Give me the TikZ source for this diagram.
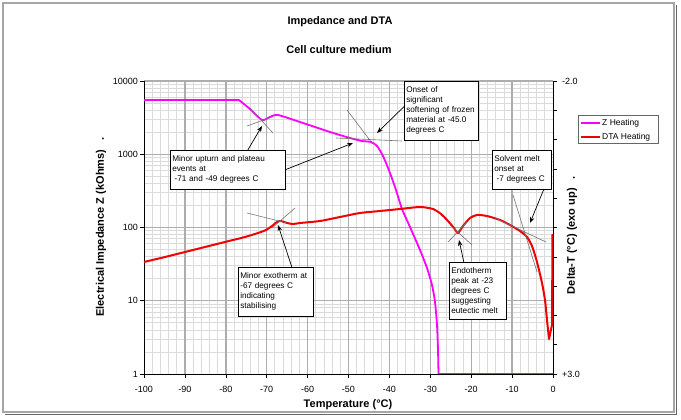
\documentclass[tikz,border=0pt]{standalone}
\usepackage{fontspec}
\setmainfont{Liberation Sans}
\usetikzlibrary{arrows.meta}
\definecolor{zmag}{RGB}{255,0,255}
\definecolor{dtared}{RGB}{240,0,0}
\begin{document}
\begin{tikzpicture}[x=1pt,y=-1pt,
  minorgrid/.style={draw=black!14, line width=0.8pt},
  majorgrid/.style={draw=black!32, line width=1.4pt},
  axisline/.style={draw=black, line width=0.7pt},
  tickline/.style={draw=black, line width=0.6pt},
  zcurve/.style={draw=zmag, line width=1.8pt, line join=round},
  dtacurve/.style={draw=dtared, line width=2pt, line join=round},
  tangent/.style={draw=black!55, line width=0.6pt},
  notebox/.style={draw=black, line width=0.6pt, fill=white, anchor=north west, align=left, inner xsep=2pt, inner ysep=5.5pt, font=\fontsize{8.2}{10}\selectfont},
  arr/.style={draw=black, line width=0.7pt, -{Stealth[length=6pt,width=4.5pt]}},
  axtitle/.style={font=\bfseries\fontsize{11}{13}\selectfont},
  ticklab/.style={font=\fontsize{9}{11}\selectfont, inner sep=1pt},
  legtext/.style={font=\fontsize{8.5}{10}\selectfont, inner sep=0pt, anchor=west}
]
\useasboundingbox (0,0) rectangle (681,420);
\fill[white] (0,0) rectangle (681,420);
% frame
\draw[black!60, line width=1pt] (5,414) -- (676,414) -- (676,5);
\draw[black!35, line width=1.2pt] (3,3) rectangle (674,412);
% grid
\foreach \k in {1,...,49}{
  \pgfmathsetmacro\gx{144+8.18*\k}
  \draw[minorgrid] (\gx,81) -- (\gx,374);
}
\foreach \d in {0,...,3}{
  \foreach \m in {2,...,9}{
    \pgfmathsetmacro\gy{374-73.25*(\d+log10(\m))}
    \draw[minorgrid] (144,\gy) -- (553,\gy);
  }
}
\foreach \k in {1,...,9}{
  \pgfmathsetmacro\gx{144+40.9*\k}
  \draw[majorgrid] (\gx,81) -- (\gx,374);
}
\foreach \d in {1,...,4}{
  \pgfmathsetmacro\gy{374-73.25*\d}
  \draw[majorgrid] (144,\gy) -- (553,\gy);
}
% axes
\draw[axisline] (144,81) -- (144,374) -- (553,374) -- (553,81);
\foreach \d/\lab in {0/1,1/10,2/100,3/1000,4/10000}{
  \pgfmathsetmacro\gy{374-73.25*\d}
  \draw[tickline] (140,\gy) -- (144,\gy);
  \node[ticklab, anchor=east] (yl\d) at (139,\gy) {\lab};
}
\foreach \k in {0,...,10}{
  \pgfmathsetmacro\tx{144+40.9*\k}
  \pgfmathtruncatemacro\tv{-100+10*\k}
  \draw[tickline] (\tx,374) -- (\tx,378);
  \node[ticklab] (xl\k) at (\tx,389) {\tv};
}
\foreach \k in {0,...,10}{
  \pgfmathsetmacro\gy{81+29.3*\k}
  \draw[tickline] (553,\gy) -- (557,\gy);
}
\node[ticklab, anchor=west] (rl0) at (561,81) {-2.0};
\node[ticklab, anchor=west] (rl1) at (561,374) {+3.0};
% curves
\draw[zcurve] (144,100) -- (239,100) plot[smooth, tension=0.4] coordinates {(239,100) (250,109) (262,120) (270,117) (278,115) (303,123) (330,132) (350,138) (362,141) (371,142) (377,146) (383,156) (390,173) (396,190) (402,209) (410,227) (420,250) (427,268) (432,285) (435,302) (437,325) (438,350) (438.5,374)} -- (553,374);
\draw[black, line width=0.6pt] (438,374) -- (553,374);
\draw[dtacurve] plot[smooth, tension=0.4] coordinates {(144,262) (165,257) (185,252) (205,247) (225,242) (245,237) (258,233) (266,230) (272,226) (277,222) (281,221) (287,223) (293,224) (300,223) (320,221) (340,217) (360,213) (380,211) (400,209) (420,207) (433,209) (441,214) (448,221) (454,228) (458,233) (463,226) (470,218) (477,215) (487,216) (500,220) (510,225) (520,231) (527,237) (532,246) (537,262) (542,283) (545,300) (547,320) (549,339)} -- (552,325) -- (552.5,234);
% tangents
\draw[tangent] (250,108) -- (273,133);
\draw[tangent] (247,126) -- (272,117);
\draw[tangent] (336,138) -- (402,141);
\draw[tangent] (347,110) -- (372,143);
\draw[tangent] (450,225) -- (472,245);
\draw[tangent] (448,242) -- (467,222);
\draw[tangent] (247,213) -- (287,223);
\draw[tangent] (272,228) -- (295,208);
\draw[tangent] (495,218) -- (546,242);
\draw[tangent] (513,195) -- (537,272);
% notes
\node[notebox, text width=111pt] (n1) at (170,150) {Minor upturn and plateau\\events at\\\hspace*{2.3pt}-71 and -49 degrees C};
\node[notebox, text width=70pt] (n2) at (404,81) {Onset of\\significant\\softening of frozen\\material at -45.0\\degrees C};
\node[notebox, text width=55pt] (n3) at (492,150) {Solvent melt\\onset at\\\hspace*{2.3pt}-7 degrees C};
\node[notebox, text width=53pt] (n4) at (449,262) {Endotherm\\peak at -23\\degrees C\\suggesting\\eutectic melt};
\node[notebox, text width=71pt] (n5) at (238,267) {Minor exotherm at\\-67 degrees C\\indicating\\stabilising};
\coordinate (a1) at (262,126);
\coordinate (a2) at (353,143);
\coordinate (a3) at (377,133);
\coordinate (a4) at (530,223);
\coordinate (a5) at (459,240);
\coordinate (a6) at (278,225);
\draw[arr] ([xshift=20pt]n1.north) -- (a1);
\draw[arr] (n1.east) -- (a2);
\draw[arr] ([yshift=4pt]n2.west) -- (a3);
\draw[arr] ([xshift=22pt]n3.south) -- (a4);
\draw[arr] ([xshift=-14pt]n4.north) -- (a5);
\draw[arr] ([xshift=16pt]n5.north) -- (a6);
% legend
\node[draw=black!60, line width=0.6pt, fill=white, minimum width=80pt, minimum height=28pt, anchor=north west, inner sep=0pt] (leg) at (578,115) {};
\draw[zcurve] (581,123) -- (600,123);
\draw[dtacurve] (581,137) -- (600,137);
\node[legtext] (legz) at (602,123) {Z Heating};
\node[legtext] (legd) at (602,137) {DTA Heating};
% titles
\node[axtitle] (title) at (340,22) {Impedance and DTA};
\node[axtitle] (sub) at (339,50) {Cell culture medium};
\node[axtitle] (xt) at (348,405) {Temperature (°C)};
\node[axtitle, rotate=90] (yt) at (101,227) {Electrical Impedance Z (kOhms)\ \ \ .};
\node[axtitle, rotate=90] (yt2) at (572,235) {Delta-T (°C) (exo up)\ \ \ .};
\end{tikzpicture}
\end{document}
